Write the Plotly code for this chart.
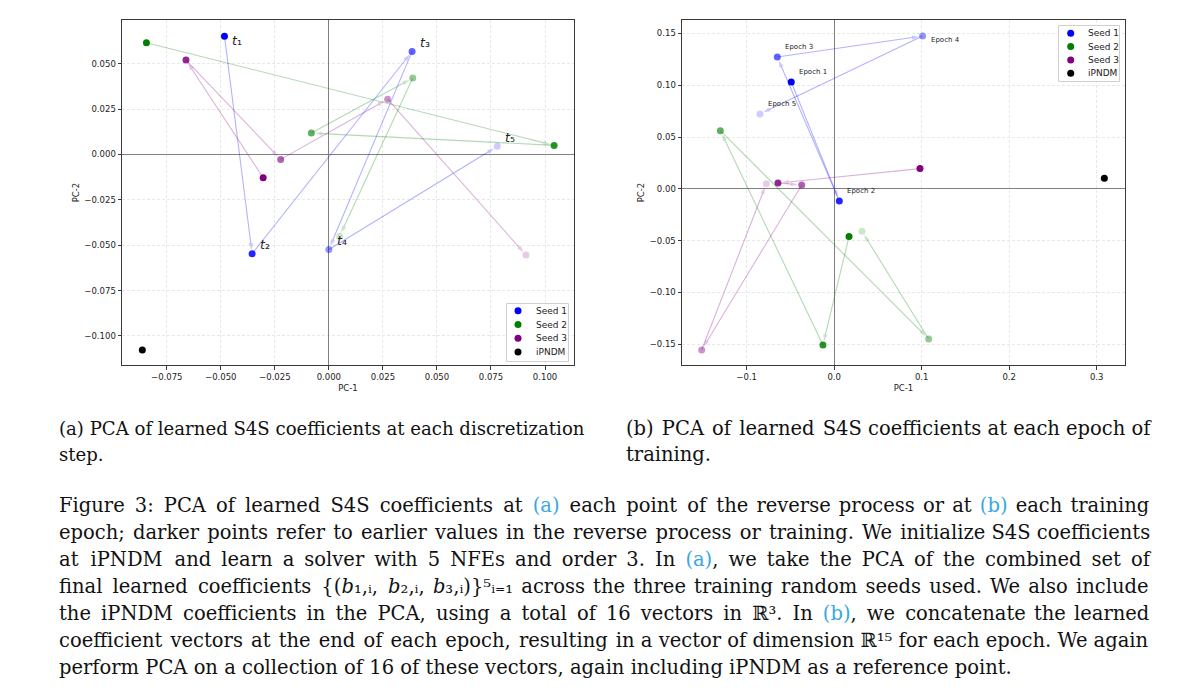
import plotly.graph_objects as go

# figure is drawn inside the page body (8 px margin), so size it to fit the 1178x700 window
PAGE_W, PAGE_H, OFF = 1178, 700, 8
FW, FH = PAGE_W - 2 * OFF, PAGE_H - 2 * OFF


def PX(px):
    return (px - OFF) / FW


def PY(py):
    return 1 - (py - OFF) / FH


# ---------------- data: (a) discretization steps ----------------
a_seed1_x = [-0.0483, -0.0355, 0.0385, 0.0000, 0.0779]
a_seed1_y = [0.0652, -0.0547, 0.0568, -0.0524, 0.0045]
a_seed2_x = [-0.0844, 0.1042, -0.0081, 0.0388, 0.0050]
a_seed2_y = [0.0616, 0.0050, 0.0118, 0.0421, -0.0450]
a_seed3_x = [-0.0304, -0.0661, -0.0223, 0.0272, 0.0912]
a_seed3_y = [-0.0128, 0.0520, -0.0027, 0.0305, -0.0554]
a_ipndm_x = [-0.0863]
a_ipndm_y = [-0.1077]
a_step_labels = ["<i>t</i>₁", "<i>t</i>₂", "<i>t</i>₃", "<i>t</i>₄", "<i>t</i>₅"]

# ---------------- data: (b) training epochs ----------------
b_seed1_x = [-0.0490, 0.0059, -0.0650, 0.1011, -0.0848]
b_seed1_y = [0.1031, -0.0117, 0.1272, 0.1474, 0.0722]
b_seed2_x = [0.0170, -0.0128, -0.1301, 0.1080, 0.0318]
b_seed2_y = [-0.0461, -0.1506, 0.0561, -0.1449, -0.0410]
b_seed3_x = [0.0981, -0.0642, -0.0371, -0.1514, -0.0775]
b_seed3_y = [0.0195, 0.0056, 0.0037, -0.1555, 0.0050]
b_ipndm_x = [0.3088]
b_ipndm_y = [0.0101]
b_epoch_labels = ["Epoch 1", "Epoch 2", "Epoch 3", "Epoch 4", "Epoch 5"]

series_names = ["Seed 1", "Seed 2", "Seed 3", "iPNDM"]

# ---------------- styles ----------------
seed_rgb = [(0, 0, 255), (0, 128, 0), (128, 0, 128)]
legend_colors = ["rgb(0,0,255)", "rgb(0,128,0)", "rgb(128,0,128)", "black"]
point_alpha = [1.0, 0.85, 0.62, 0.42, 0.2]
arrow_alpha = 0.3
MS = 7

fig = go.Figure()


def add_panel(xs_list, ys_list, ipx, ipy, xa, ya):
    # trajectories (lines with arrowheads)
    for k, (xs, ys) in enumerate(zip(xs_list, ys_list)):
        r, g, b = seed_rgb[k]
        c = f"rgba({r},{g},{b},{arrow_alpha})"
        fig.add_trace(go.Scatter(
            x=xs, y=ys, mode="lines+markers", xaxis=xa, yaxis=ya,
            line=dict(color=c, width=1.1),
            marker=dict(symbol="arrow", angleref="previous", standoff=4,
                        size=[0] + [7] * (len(xs) - 1), color=c, line=dict(width=0)),
            showlegend=False, hoverinfo="skip"))
    # points
    for k, (xs, ys) in enumerate(zip(xs_list, ys_list)):
        r, g, b = seed_rgb[k]
        fig.add_trace(go.Scatter(
            x=xs, y=ys, mode="markers", xaxis=xa, yaxis=ya, name=series_names[k],
            marker=dict(size=MS, color=f"rgb({r},{g},{b})", opacity=point_alpha,
                        line=dict(width=0)),
            showlegend=False, hoverinfo="skip"))
    fig.add_trace(go.Scatter(
        x=ipx, y=ipy, mode="markers", xaxis=xa, yaxis=ya, name=series_names[3],
        marker=dict(size=MS, color="black"), showlegend=False, hoverinfo="skip"))


add_panel([a_seed1_x, a_seed2_x, a_seed3_x], [a_seed1_y, a_seed2_y, a_seed3_y],
          a_ipndm_x, a_ipndm_y, "x", "y")
add_panel([b_seed1_x, b_seed2_x, b_seed3_x], [b_seed1_y, b_seed2_y, b_seed3_y],
          b_ipndm_x, b_ipndm_y, "x2", "y2")

# point labels
a_label_shift = [(6, -4), (6, 9), (6, 9), (6, 9), (6, 9)]
for i, lab in enumerate(a_step_labels):
    fig.add_annotation(x=a_seed1_x[i], y=a_seed1_y[i], xref="x", yref="y",
                       text=lab, showarrow=False, xanchor="left", yanchor="middle",
                       xshift=a_label_shift[i][0], yshift=a_label_shift[i][1],
                       font=dict(family="DejaVu Sans", size=12.5, color="#222"))
b_label_shift = [(6, 10), (6, 10), (6, 10), (6, -4), (6, 10)]
for i, lab in enumerate(b_epoch_labels):
    fig.add_annotation(x=b_seed1_x[i], y=b_seed1_y[i], xref="x2", yref="y2",
                       text=lab, showarrow=False, xanchor="left", yanchor="middle",
                       xshift=b_label_shift[i][0], yshift=b_label_shift[i][1],
                       font=dict(family="DejaVu Sans", size=7, color="#222"))

# ---------------- legends (boxes drawn on their own small subplots) ----------------
legend_boxes = [  # page-pixel boxes: x0, y0, x1, y1, marker x, text x, first row, row step
    dict(x0=506, y0=303, x1=569, y1=362, mx=12, tx=28, r0=7.7, dr=13.8, xa="x3", ya="y3"),
    dict(x0=1058, y0=25, x1=1120, y1=82, mx=12.7, tx=28, r0=8.3, dr=13.3, xa="x4", ya="y4"),
]
for lb in legend_boxes:
    w, h = lb["x1"] - lb["x0"], lb["y1"] - lb["y0"]
    rows = [lb["r0"] + i * lb["dr"] for i in range(len(series_names))]
    fig.add_shape(type="rect", xref=lb["xa"], yref=lb["ya"], x0=0.5, x1=w - 0.5, y0=0.5, y1=h - 0.5,
                  line=dict(color="#d0d0d0", width=1), fillcolor="rgba(255,255,255,0.85)",
                  layer="below")
    fig.add_trace(go.Scatter(x=[lb["mx"]] * len(series_names), y=rows, mode="markers",
                             xaxis=lb["xa"], yaxis=lb["ya"],
                             marker=dict(size=MS, color=legend_colors), showlegend=False,
                             hoverinfo="skip"))
    for name, ry in zip(series_names, rows):
        fig.add_annotation(x=lb["tx"], y=ry, xref=lb["xa"], yref=lb["ya"], text=name,
                           showarrow=False, xanchor="left", yanchor="middle",
                           font=dict(family="DejaVu Sans", size=9, color="#222"))

# ---------------- axes ----------------
tickfont = dict(family="DejaVu Sans", size=8.5, color="#222")
titlefont = dict(family="DejaVu Sans", size=8.5, color="#222")
common = dict(showgrid=True, gridcolor="#e8e8e8", griddash="3px,2px", gridwidth=0.8,
              zeroline=True, zerolinecolor="#808080", zerolinewidth=1.3,
              showline=True, mirror=True, linecolor="#3a3a3a", linewidth=1,
              ticks="outside", ticklen=3.5, tickwidth=0.8, tickcolor="#3a3a3a",
              tickfont=tickfont)
hidden = dict(visible=False, showgrid=False, zeroline=False, fixedrange=True)
ydom = [PY(365), PY(20)]
lb0, lb1 = legend_boxes

fig.update_layout(
    xaxis=dict(common, domain=[PX(122), PX(574)], anchor="y",
               range=[-0.0957, 0.1134], dtick=0.025, tick0=0, tickformat=".3f",
               title=dict(text="PC-1", font=titlefont, standoff=4)),
    yaxis=dict(common, domain=ydom, anchor="x",
               range=[-0.116, 0.0741], dtick=0.025, tick0=0, tickformat=".3f",
               title=dict(text="PC-2", font=titlefont, standoff=3)),
    xaxis2=dict(common, domain=[PX(682), PX(1125)], anchor="y2",
                range=[-0.1739, 0.3324], dtick=0.1, tick0=0, tickformat=".1f",
                title=dict(text="PC-1", font=titlefont, standoff=4)),
    yaxis2=dict(common, domain=ydom, anchor="x2",
                range=[-0.170, 0.1629], dtick=0.05, tick0=0, tickformat=".2f",
                title=dict(text="PC-2", font=titlefont, standoff=3)),
    xaxis3=dict(hidden, domain=[PX(lb0["x0"]), PX(lb0["x1"])], anchor="y3",
                range=[0, lb0["x1"] - lb0["x0"]]),
    yaxis3=dict(hidden, domain=[PY(lb0["y1"]), PY(lb0["y0"])], anchor="x3",
                range=[lb0["y1"] - lb0["y0"], 0]),
    xaxis4=dict(hidden, domain=[PX(lb1["x0"]), PX(lb1["x1"])], anchor="y4",
                range=[0, lb1["x1"] - lb1["x0"]]),
    yaxis4=dict(hidden, domain=[PY(lb1["y1"]), PY(lb1["y0"])], anchor="x4",
                range=[lb1["y1"] - lb1["y0"], 0]),
    width=FW, height=FH, margin=dict(l=0, r=0, t=0, b=0),
    paper_bgcolor="white", plot_bgcolor="white", showlegend=False,
)

# ---------------- captions ----------------
LINK = "#3aa8e0"
FS = 19.5
serif = dict(family="DejaVu Serif, Liberation Serif, serif", size=FS, color="#111")
serif_a = dict(serif, size=18.1)
HAIR = "\u200a"


def link(s):
    return f"<span style='color:{LINK}'>{s}</span>"


def justify(text, extra_px):
    """Widen the inter-word gaps (outside markup tags) by about extra_px pixels."""
    gaps, inside = [], False
    for i, ch in enumerate(text):
        if ch == "<":
            inside = True
        elif ch == ">":
            inside = False
        elif ch == " " and not inside:
            gaps.append(i)
    units = int(round(extra_px / (0.1 * FS)))
    if not gaps or units <= 0:
        return text
    n = len(gaps)
    counts = [units // n + (1 if j < units % n else 0) for j in range(n)]
    out, last = [], 0
    for g, c in zip(gaps, counts):
        out.append(text[last:g + 1])
        out.append(HAIR * c)
        last = g + 1
    out.append(text[last:])
    return "".join(out)


subcap_a = ["(a) PCA of learned S4S coefficients at each discretization", "step."]
subcap_b = ["(b) PCA of learned S4S coefficients at each epoch of", "training."]
subcap_b_extra = [7, 0]
subcap_y = [428, 454]
for i in range(2):
    fig.add_annotation(x=PX(57), y=PY(subcap_y[i]), xref="paper", yref="paper",
                       text=subcap_a[i], showarrow=False, xanchor="left", yanchor="middle",
                       font=serif_a)
    fig.add_annotation(x=PX(624), y=PY(subcap_y[i]), xref="paper", yref="paper",
                       text=justify(subcap_b[i], subcap_b_extra[i]), showarrow=False,
                       xanchor="left", yanchor="middle", font=serif)

caption_lines = [
    f"Figure 3: PCA of learned S4S coefficients at {link('(a)')} each point of the reverse process or at {link('(b)')} each training",
    "epoch; darker points refer to earlier values in the reverse process or training. We initialize S4S coefficients",
    f"at iPNDM and learn a solver with 5 NFEs and order 3. In {link('(a)')}, we take the PCA of the combined set of",
    "final learned coefficients {(<i>b</i>₁,ᵢ, <i>b</i>₂,ᵢ, <i>b</i>₃,ᵢ)}⁵ᵢ₌₁ across the three training random seeds used. We also include",
    f"the iPNDM coefficients in the PCA, using a total of 16 vectors in ℝ³. In {link('(b)')}, we concatenate the learned",
    "coefficient vectors at the end of each epoch, resulting in a vector of dimension ℝ¹⁵ for each epoch. We again",
    "perform PCA on a collection of 16 of these vectors, again including iPNDM as a reference point.",
]
caption_extra = [61, 27, 89, 37, 70, 18, 0]  # widening needed to justify to the right margin
caption_y = [505, 532, 559, 586, 613, 640, 667]
for txt, ex, yc in zip(caption_lines, caption_extra, caption_y):
    fig.add_annotation(x=PX(57), y=PY(yc), xref="paper", yref="paper",
                       text=justify(txt, ex), showarrow=False, xanchor="left", yanchor="middle",
                       font=serif)

fig.write_html("out.html")
